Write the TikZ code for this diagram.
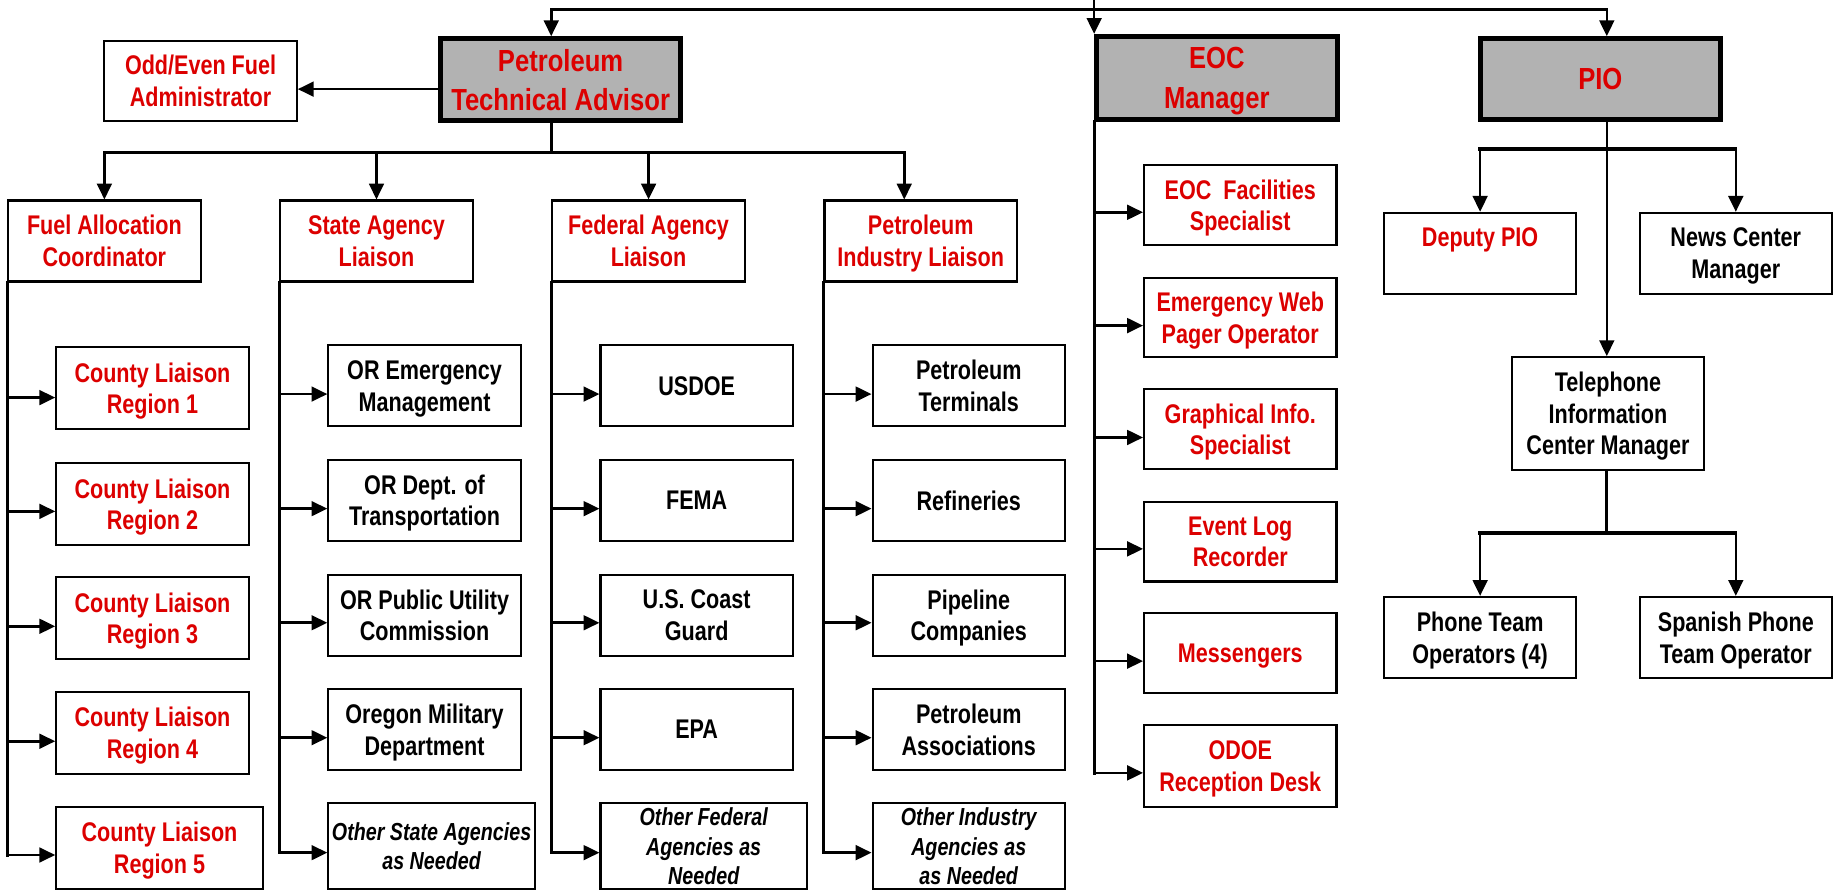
\documentclass[tikz,border=0pt]{standalone}
\usepackage{fontspec}
\setmainfont[FakeStretch=0.8]{Liberation Sans}
\newfontfamily\ttlfont[FakeStretch=0.84]{Liberation Sans}
\usetikzlibrary{arrows.meta,calc}
\definecolor{myred}{RGB}{220,0,0}
\definecolor{tgray}{RGB}{178,178,178}
\begin{document}
\begin{tikzpicture}[x=1pt,y=-1pt,
  box/.style={draw,line width=1.8pt,fill=white,inner sep=0pt,align=center,minimum width=164pt,minimum height=69pt,text depth=-3pt,font=\bfseries\fontsize{23}{27}\selectfont},
  ttl/.style={draw,line width=4.2pt,fill=tgray,inner sep=0pt,align=center,minimum width=205pt,minimum height=70pt,text=myred,font=\ttlfont\bfseries\fontsize{26}{33}\selectfont},
  rtxt/.style={text=myred},
  itx/.style={font=\bfseries\itshape\fontsize{21}{25}\selectfont},
  bus/.style={line width=2.8pt,line cap=rect},
  arr/.style={line width=2.2pt,-{Triangle[length=13.5pt,width=12.5pt]}},
]
\useasboundingbox (0,0) rectangle (1568,759);
% top level
\node[box,rtxt,minimum height=68pt] (odd) at (171,69) {Odd/Even Fuel\\Administrator};
\node[ttl] (pta) at (478,68) {Petroleum\\Technical Advisor};
\node[ttl,minimum height=71pt,text depth=-3pt] (eoc) at (1037.5,66.5) {EOC\\[1pt]Manager};
\node[ttl,minimum height=69pt] (pio) at (1364.5,67.5) {PIO};
% second row
\node[box,rtxt] (fac) at (89,205.5) {Fuel Allocation\\Coordinator};
\node[box,rtxt] (sal) at (321,205.5) {State Agency\\Liaison};
\node[box,rtxt] (fal) at (553,205.5) {Federal Agency\\Liaison};
\node[box,rtxt] (pil) at (785,205.5) {Petroleum\\Industry Liaison};
% county
\node[box,rtxt,minimum height=70pt] (cl1) at (130,331) {County Liaison\\Region 1};
\node[box,rtxt,minimum height=70pt] (cl2) at (130,430) {County Liaison\\Region 2};
\node[box,rtxt,minimum height=70pt] (cl3) at (130,527) {County Liaison\\Region 3};
\node[box,rtxt,minimum height=70pt] (cl4) at (130,625) {County Liaison\\Region 4};
\node[box,rtxt,minimum height=70pt,minimum width=176pt] (cl5) at (136,723) {County Liaison\\Region 5};
% state
\node[box] (sa1) at (362,329) {OR Emergency\\Management};
\node[box] (sa2) at (362,426.6) {OR Dept. of\\Transportation};
\node[box] (sa3) at (362,524.5) {OR Public Utility\\Commission};
\node[box] (sa4) at (362,622) {Oregon Military\\Department};
\node[box,itx,minimum width=176pt,minimum height=73pt] (sa5) at (368,721.5) {Other State Agencies\\as Needed};
% federal
\node[box] (fa1) at (594,329) {USDOE};
\node[box] (fa2) at (594,426.6) {FEMA};
\node[box] (fa3) at (594,524.5) {U.S. Coast\\Guard};
\node[box] (fa4) at (594,622) {EPA};
\node[box,itx,minimum width=176pt,minimum height=73pt] (fa5) at (600,721.5) {Other Federal\\Agencies as\\Needed};
% industry
\node[box] (ia1) at (826,329) {Petroleum\\Terminals};
\node[box] (ia2) at (826,426.6) {Refineries};
\node[box] (ia3) at (826,524.5) {Pipeline\\Companies};
\node[box] (ia4) at (826,622) {Petroleum\\Associations};
\node[box,itx,minimum height=73pt] (ia5) at (826,721.5) {Other Industry\\Agencies as\\as Needed};
% EOC children
\node[box,rtxt,minimum height=68pt] (ec1) at (1057.5,175) {EOC\ \ Facilities\\Specialist};
\node[box,rtxt,minimum height=68pt] (ec2) at (1057.5,270.7) {Emergency Web\\Pager Operator};
\node[box,rtxt,minimum height=68pt] (ec3) at (1057.5,366) {Graphical Info.\\Specialist};
\node[box,rtxt,minimum height=68pt] (ec4) at (1057.5,461.8) {Event Log\\Recorder};
\node[box,rtxt,minimum height=68pt] (ec5) at (1057.5,557) {Messengers};
\node[box,rtxt,minimum height=70pt] (ec6) at (1057.5,653) {ODOE\\Reception Desk};
% PIO children
\node[box,rtxt] (dep) at (1262,216) {Deputy PIO\\\mbox{}};
\node[box] (news) at (1480,216) {News Center\\Manager};
\node[box,minimum height=96pt] (tel) at (1371,352.6) {Telephone\\Information\\Center Manager};
\node[box] (pto) at (1262,543.5) {Phone Team\\Operators (4)};
\node[box] (spo) at (1480,543.5) {Spanish Phone\\Team Operator};
% top connectors
\coordinate (y0) at (0,0);
\coordinate (tl) at (470,8);
\coordinate (tr) at (1370,8);
\draw[bus] (tl) -- (tr);
\draw[arr] (tl) -- (tl |- pta.north);
\draw[arr] (tr) -- (tr |- pio.north);
\draw[arr] (eoc.north west |- y0) -- (eoc.north west);
% PTA
\draw[arr] (pta.west |- 0,76) -- (odd.east |- 0,76);
\coordinate (pb) at (470,130);
\coordinate (b1) at (89,130);
\coordinate (b2) at (321,130);
\coordinate (b3) at (553,130);
\coordinate (b4) at (771,130);
\draw[bus] (pb |- pta.south) -- (pb);
\draw[bus] (b1) -- (b4);
\draw[arr] (b1) -- (b1 |- fac.north);
\draw[arr] (b2) -- (b2 |- sal.north);
\draw[arr] (b3) -- (b3 |- fal.north);
\draw[arr] (b4) -- (b4 |- pil.north);
% county bus
\draw[bus] (fac.south west) -- (fac.west |- 0,729);
\draw[arr] (fac.west |- 0,339) -- (cl1.west |- 0,339);
\draw[arr] (fac.west |- 0,436) -- (cl2.west |- 0,436);
\draw[arr] (fac.west |- 0,534) -- (cl3.west |- 0,534);
\draw[arr] (fac.west |- 0,632) -- (cl4.west |- 0,632);
\draw[arr] (fac.west |- 0,729) -- (cl5.west |- 0,729);
% state bus
\draw[bus] (sal.south west) -- (sal.west |- 0,727);
\draw[arr] (sal.west |- 0,336) -- (sa1.west |- 0,336);
\draw[arr] (sal.west |- 0,433.7) -- (sa2.west |- 0,433.7);
\draw[arr] (sal.west |- 0,531) -- (sa3.west |- 0,531);
\draw[arr] (sal.west |- 0,629) -- (sa4.west |- 0,629);
\draw[arr] (sal.west |- 0,727) -- (sa5.west |- 0,727);
% federal bus
\draw[bus] (fal.south west) -- (fal.west |- 0,727);
\draw[arr] (fal.west |- 0,336) -- (fa1.west |- 0,336);
\draw[arr] (fal.west |- 0,433.7) -- (fa2.west |- 0,433.7);
\draw[arr] (fal.west |- 0,531) -- (fa3.west |- 0,531);
\draw[arr] (fal.west |- 0,629) -- (fa4.west |- 0,629);
\draw[arr] (fal.west |- 0,727) -- (fa5.west |- 0,727);
% industry bus
\draw[bus] (pil.south west) -- (pil.west |- 0,727);
\draw[arr] (pil.west |- 0,336) -- (ia1.west |- 0,336);
\draw[arr] (pil.west |- 0,433.7) -- (ia2.west |- 0,433.7);
\draw[arr] (pil.west |- 0,531) -- (ia3.west |- 0,531);
\draw[arr] (pil.west |- 0,629) -- (ia4.west |- 0,629);
\draw[arr] (pil.west |- 0,727) -- (ia5.west |- 0,727);
% EOC bus
\draw[bus] (eoc.south west) -- (eoc.west |- 0,659);
\draw[arr] (eoc.west |- 0,181) -- (ec1.west |- 0,181);
\draw[arr] (eoc.west |- 0,277.6) -- (ec2.west |- 0,277.6);
\draw[arr] (eoc.west |- 0,373) -- (ec3.west |- 0,373);
\draw[arr] (eoc.west |- 0,468) -- (ec4.west |- 0,468);
\draw[arr] (eoc.west |- 0,563.7) -- (ec5.west |- 0,563.7);
\draw[arr] (eoc.west |- 0,659) -- (ec6.west |- 0,659);
% PIO
\draw[arr] (tr |- pio.south) -- (tr |- tel.north);
\coordinate (p1) at (1262,127);
\coordinate (p2) at (1480,127);
\draw[bus] (p1) -- (p2);
\draw[arr] (p1) -- (p1 |- dep.north);
\draw[arr] (p2) -- (p2 |- news.north);
\coordinate (q1) at (1262,454.5);
\coordinate (q2) at (1480,454.5);
\draw[bus] (tr |- tel.south) -- (tr |- q1);
\draw[bus] (q1) -- (q2);
\draw[arr] (q1) -- (q1 |- pto.north);
\draw[arr] (q2) -- (q2 |- spo.north);
\end{tikzpicture}
\end{document}
